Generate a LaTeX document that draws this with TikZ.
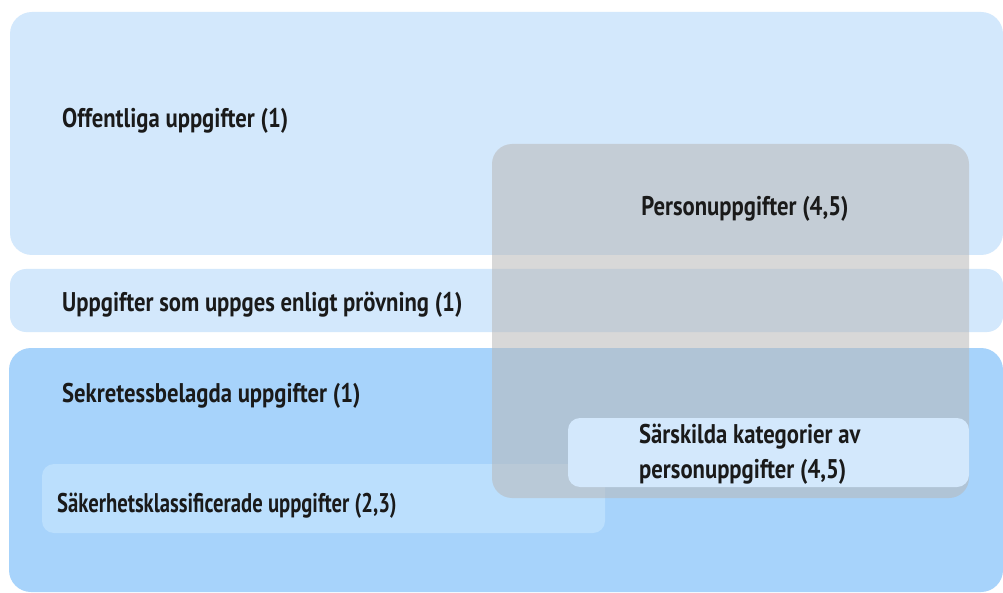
\documentclass[tikz,border=0pt]{standalone}
\usepackage{fontspec}
\setmainfont{PT Sans}[FakeStretch=0.84]
\newfontfamily\tightfont{PT Sans}[FakeStretch=0.765]
\definecolor{paleblue}{HTML}{D3E8FC}
\definecolor{midblue}{HTML}{A7D3FB}
\definecolor{liteblue}{HTML}{BBDFFD}
\definecolor{shade}{HTML}{B8B8B8}
\definecolor{ink}{HTML}{1A1A1A}
\begin{document}
\begin{tikzpicture}[x=1pt,y=-1pt,
  panel/.style={inner sep=0pt, outer sep=0pt, anchor=north west},
  label/.style={inner sep=0pt, anchor=base west, text=ink, font=\bfseries\fontsize{27}{35}\selectfont}]
\useasboundingbox (0,0) rectangle (1003,593);
\fill[white] (0,0) rectangle (1003,593);

% main category panels
\node[panel, fill=paleblue, rounded corners=22pt, minimum width=993pt, minimum height=243pt] (offentliga) at (10,12) {};
\node[panel, fill=paleblue, rounded corners=16pt, minimum width=993pt, minimum height=63pt] (prov) at (10,269) {};
\node[panel, fill=midblue, rounded corners=22pt, minimum width=994pt, minimum height=244pt] (sekretess) at (9,348) {};
\node[panel, fill=liteblue, rounded corners=12pt, minimum width=563pt, minimum height=69pt] (sakerhet) at (42,464) {};

% personal data overlay
\node[panel, fill=shade, fill opacity=0.55, rounded corners=20pt, minimum width=477pt, minimum height=354pt] (person) at (492,144) {};
\node[panel, fill=paleblue, rounded corners=12pt, minimum width=401pt, minimum height=69pt] (sarskilda) at (568,418) {};

% labels
\node[label] (tOff) at (62,128) {Offentliga uppgifter (1)};
\node[label] (tProv) at (62,312) {Uppgifter som uppges enligt prövning (1)};
\node[label] (tSek) at (62,402) {Sekretessbelagda uppgifter (1)};
\node[label, font=\tightfont\bfseries\fontsize{27}{35}\selectfont] (tSak) at (57,512) {Säkerhetsklassificerade uppgifter (2,3)};
\node[label, anchor=base] (tPer) at (745,216) {Personuppgifter (4,5)};
\node[label] (tSar1) at (639,443) {Särskilda kategorier av};
\node[label] (tSar2) at (639,478) {personuppgifter (4,5)};
\end{tikzpicture}
\end{document}
